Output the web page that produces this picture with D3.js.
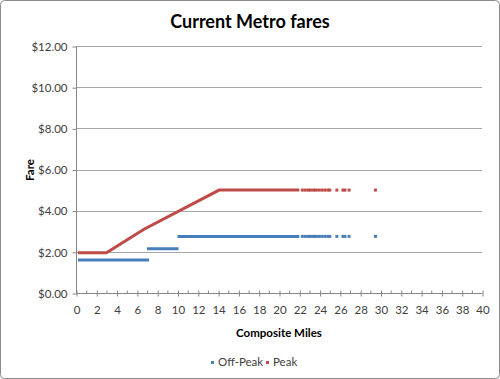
<!DOCTYPE html>
<html><head><meta charset="utf-8">
<script src="https://cdn.jsdelivr.net/npm/d3@7"></script>
<style>body{margin:0;background:#fff}svg{display:block}text{font-family:Lato,"Open Sans",sans-serif}</style>
</head><body><svg id="c" width="500" height="379"></svg>
<script>
// Dense runs of points (drawn as continuous bands): [startMile, endMile, fare]
const offPeakRuns = [[0.2, 7.2, 1.60], [7.0, 10.1, 2.15], [10.0, 22.0, 2.75]];
// Peak dense run as polyline vertices
const peakRunMiles = [0.2, 3.0, 6.7, 14.1, 22.0];
const peakRunFares = [1.95, 1.95, 3.10, 5.00, 5.00];
// Sparse individual points beyond the dense run
const sparseMiles = [22.3, 22.6, 22.9, 23.1, 23.4, 23.6, 23.9, 24.2, 24.5, 24.8, 25.0, 25.7, 26.3, 26.5, 26.9, 29.5];
const sparseOffPeak = [2.75, 2.75, 2.75, 2.75, 2.75, 2.75, 2.75, 2.75, 2.75, 2.75, 2.75, 2.75, 2.75, 2.75, 2.75, 2.75];
const sparsePeak = [5.00, 5.00, 5.00, 5.00, 5.00, 5.00, 5.00, 5.00, 5.00, 5.00, 5.00, 5.00, 5.00, 5.00, 5.00, 5.00];
const yTicks = [0, 2, 4, 6, 8, 10, 12];
const xTicks = [0,2,4,6,8,10,12,14,16,18,20,22,24,26,28,30,32,34,36,38,40];
const seriesNames = ["Off-Peak", "Peak"];
const colors = {"Off-Peak": "#4A7EBB", "Peak": "#BE4B48"};

const svg = d3.select("#c");
svg.append("rect").attr("x",0.5).attr("y",0.5).attr("width",499).attr("height",378)
  .attr("rx",4).attr("fill","#fff").attr("stroke","#8c8c8c");

const x = d3.scaleLinear().domain([0,40]).range([76,482]);
const y = d3.scaleLinear().domain([0,12]).range([293,46]);

svg.append("text").attr("x",250).attr("y",28).attr("text-anchor","middle")
  .attr("font-size",18).attr("font-weight","bold").attr("fill","#000").text("Current Metro fares");

// gridlines
svg.append("g").selectAll("line").data(yTicks.filter(d=>d>0)).join("line")
  .attr("x1",x(0)).attr("x2",482).attr("y1",d=>Math.round(y(d))+0.5).attr("y2",d=>Math.round(y(d))+0.5)
  .attr("stroke","#a6a6a6");

// y axis
const ya = d3.axisLeft(y).tickValues(yTicks).tickFormat(d=>"$"+d.toFixed(2)).tickSize(4).tickPadding(5);
const yg = svg.append("g").attr("transform",`translate(${Math.round(x(0))+0.5},0.5)`).call(ya);
yg.select(".domain").attr("stroke","#868686").attr("d",`M0,${y(12)}V${y(0)}`);
yg.selectAll(".tick line").attr("stroke","#868686");
yg.selectAll(".tick text").attr("font-size",11.5).attr("fill","#404040").attr("font-family","Lato,sans-serif");

// x axis
const xa = d3.axisBottom(x).tickValues(xTicks).tickSize(3).tickPadding(9);
const xg = svg.append("g").attr("transform",`translate(0.5,${Math.round(y(0))+0.5})`).call(xa);
xg.select(".domain").attr("stroke","#868686").attr("d",`M${x(0)},0H${x(40)}`);
xg.selectAll(".tick line").attr("stroke","#868686").attr("y1",-3).attr("y2",3);
xg.selectAll(".tick text").attr("font-size",11.5).attr("fill","#404040").attr("font-family","Lato,sans-serif");
xg.append("g").selectAll("line").data(d3.range(1,40,2)).join("line")
  .attr("x1",d=>x(d)).attr("x2",d=>x(d)).attr("y1",-3).attr("y2",0).attr("stroke","#868686");

// axis titles
svg.append("text").attr("transform","translate(34,170) rotate(-90)").attr("text-anchor","middle")
  .attr("font-size",11.5).attr("font-weight","bold").attr("fill","#000").text("Fare");
svg.append("text").attr("x",279).attr("y",337).attr("text-anchor","middle")
  .attr("font-size",11.5).attr("font-weight","bold").attr("fill","#000").text("Composite Miles");

// off-peak dense runs
svg.append("g").selectAll("line").data(offPeakRuns).join("line")
  .attr("x1",d=>x(d[0])).attr("x2",d=>x(d[1])).attr("y1",d=>y(d[2])).attr("y2",d=>y(d[2]))
  .attr("stroke",colors["Off-Peak"]).attr("stroke-width",3);
// peak dense run
svg.append("path").datum(peakRunMiles.map((m,i)=>[m,peakRunFares[i]]))
  .attr("d",d3.line().x(d=>x(d[0])).y(d=>y(d[1])))
  .attr("fill","none").attr("stroke",colors["Peak"]).attr("stroke-width",3);

// sparse points
svg.append("g").selectAll("rect").data(sparseMiles.map((m,i)=>[m,sparseOffPeak[i]])).join("rect")
  .attr("x",d=>x(d[0])-1.5).attr("y",d=>y(d[1])-1.5).attr("width",3).attr("height",3).attr("fill",colors["Off-Peak"]);
svg.append("g").selectAll("rect").data(sparseMiles.map((m,i)=>[m,sparsePeak[i]])).join("rect")
  .attr("x",d=>x(d[0])-1.5).attr("y",d=>y(d[1])-1.5).attr("width",3).attr("height",3).attr("fill",colors["Peak"]);

// legend
const lg = svg.append("g");
const lx = [212, 267];
seriesNames.forEach((s,i)=>{
  lg.append("rect").attr("x",lx[i]-1).attr("y",361).attr("width",3).attr("height",3).attr("fill",colors[s]);
  lg.append("text").attr("x",lx[i]+6).attr("y",366).attr("font-size",11.5).attr("fill","#404040").text(s);
});
</script></body></html>
